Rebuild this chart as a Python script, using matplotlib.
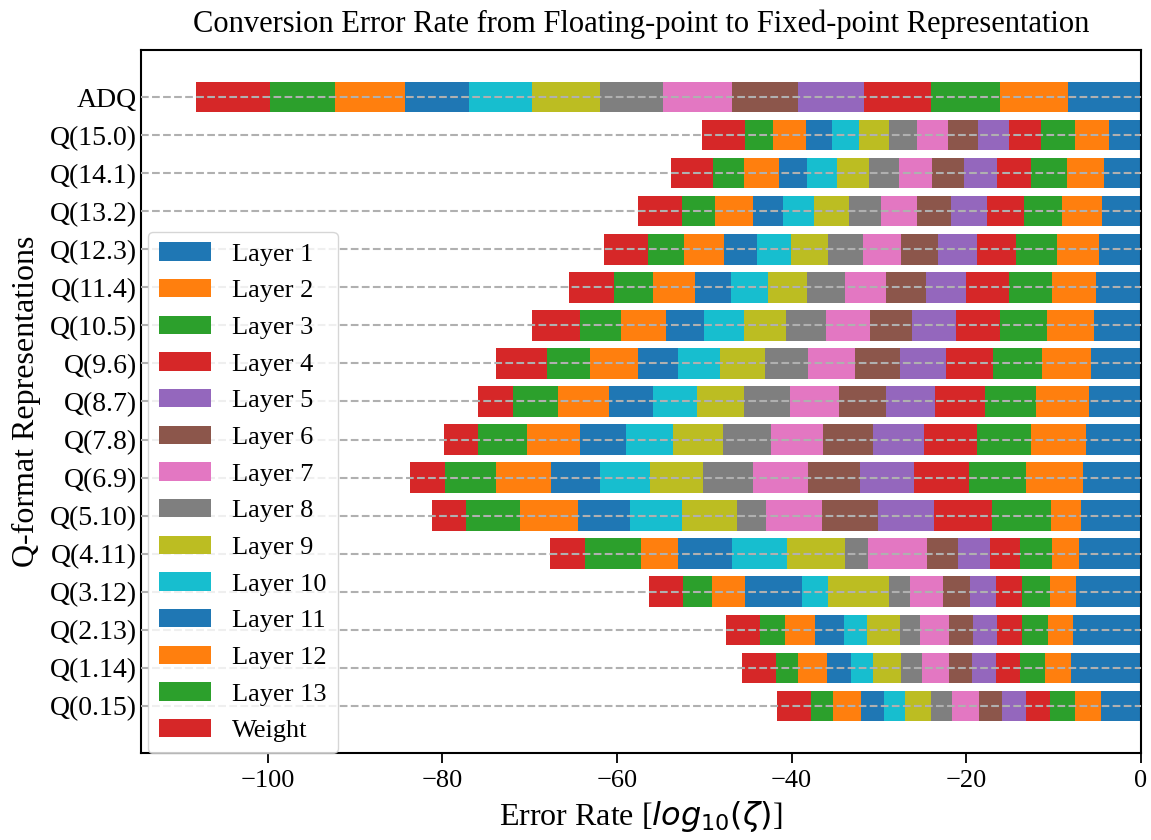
import matplotlib
matplotlib.use("Agg")
import matplotlib.pyplot as plt
import numpy as np

plt.rcParams['font.family'] = ['Liberation Serif', 'DejaVu Serif']

# rows, top to bottom
q_formats = ["ADQ", "Q(15.0)", "Q(14.1)", "Q(13.2)", "Q(12.3)", "Q(11.4)", "Q(10.5)",
             "Q(9.6)", "Q(8.7)", "Q(7.8)", "Q(6.9)", "Q(5.10)", "Q(4.11)", "Q(3.12)",
             "Q(2.13)", "Q(1.14)", "Q(0.15)"]

# log10 error rate contributed by each part (negative)
layer_1 = [-8.40, -3.67, -4.20, -4.50, -4.78, -5.12, -5.38, -5.69, -5.99, -6.33, -6.61, -6.87, -7.14, -7.48, -7.79, -8.05, -4.58]
layer_2 = [-7.75, -3.89, -4.24, -4.51, -4.84, -5.07, -5.39, -5.68, -6.00, -6.27, -6.56, -3.40, -3.02, -2.91, -2.86, -2.91, -2.95]
layer_3 = [-7.90, -3.89, -4.13, -4.43, -4.66, -4.96, -5.35, -5.58, -5.88, -6.19, -6.50, -6.80, -3.70, -3.21, -3.02, -2.90, -2.89]
layer_4 = [-7.65, -3.67, -3.92, -4.20, -4.51, -4.86, -5.11, -5.42, -5.73, -6.03, -6.30, -6.64, -3.44, -3.01, -2.79, -2.75, -2.75]
layer_5 = [-7.62, -3.52, -3.82, -4.09, -4.43, -4.65, -5.00, -5.27, -5.58, -5.88, -6.18, -6.42, -3.70, -3.01, -2.78, -2.71, -2.72]
layer_6 = [-7.56, -3.43, -3.63, -3.93, -4.24, -4.55, -4.81, -5.16, -5.41, -5.73, -6.03, -6.38, -3.48, -3.03, -2.79, -2.67, -2.70]
layer_7 = [-7.84, -3.59, -3.81, -4.12, -4.38, -4.70, -5.01, -5.31, -5.58, -5.92, -6.19, -6.47, -6.79, -3.81, -3.28, -3.13, -3.06]
layer_8 = [-7.25, -3.17, -3.44, -3.70, -4.01, -4.35, -4.61, -4.92, -5.23, -5.50, -5.80, -3.26, -2.64, -2.41, -2.30, -2.34, -2.37]
layer_9 = [-7.76, -3.47, -3.67, -3.98, -4.24, -4.50, -4.85, -5.16, -5.46, -5.76, -6.07, -6.34, -6.64, -6.96, -3.78, -3.27, -3.01]
layer_10 = [-7.25, -3.10, -3.40, -3.55, -3.93, -4.20, -4.47, -4.77, -5.07, -5.38, -5.70, -5.95, -6.30, -3.04, -2.67, -2.45, -2.44]
layer_11 = [-7.33, -3.01, -3.21, -3.43, -3.78, -4.07, -4.40, -4.66, -4.97, -5.27, -5.56, -5.88, -6.15, -6.46, -3.28, -2.82, -2.60]
layer_12 = [-8.02, -3.71, -4.01, -4.36, -4.55, -4.87, -5.19, -5.49, -5.80, -6.07, -6.38, -6.72, -4.24, -3.78, -3.40, -3.26, -3.21]
layer_13 = [-7.44, -3.24, -3.47, -3.74, -4.12, -4.39, -4.66, -4.93, -5.24, -5.54, -5.85, -6.16, -6.41, -3.35, -2.90, -2.55, -2.52]
weight = [-8.48, -4.96, -4.92, -5.00, -5.04, -5.23, -5.45, -5.84, -4.01, -3.94, -3.93, -3.92, -3.97, -3.93, -3.86, -3.93, -3.93]

series = [layer_1, layer_2, layer_3, layer_4, layer_5, layer_6, layer_7,
          layer_8, layer_9, layer_10, layer_11, layer_12, layer_13, weight]
names = ["Layer %d" % (i + 1) for i in range(13)] + ["Weight"]

colors = plt.rcParams['axes.prop_cycle'].by_key()['color']

fig = plt.figure(figsize=(11.51, 8.4), dpi=100)
ax = fig.add_axes([0.1225, 0.1036, 0.8688, 0.8369])

y = np.arange(len(q_formats))
left = np.zeros(len(q_formats))
for i, (vals, name) in enumerate(zip(series, names)):
    vals = np.array(vals)
    ax.barh(y, vals, 0.8, left=left, label=name, color=colors[i % 10])
    left = left + vals

ax.set_yticks(y)
ax.set_yticklabels(q_formats, fontsize=20)
ax.invert_yaxis()
ax.set_xlim(-114.5, 0)
ax.tick_params(axis='x', labelsize=19, length=7, width=1.3, pad=5)
ax.tick_params(axis='y', length=0, pad=3)
ax.yaxis.grid(True, linestyle='--', color='#b0b0b0', linewidth=1.5)
ax.set_axisbelow(False)
for s in ax.spines.values():
    s.set_linewidth(1.5)

ax.set_title("Conversion Error Rate from Floating-point to Fixed-point Representation",
             fontsize=22, pad=13)
ax.set_xlabel(r"Error Rate [$log_{10}(\zeta)$]", fontsize=23, labelpad=5)
ax.set_ylabel("Q-format Representations", fontsize=23, labelpad=6)
ax.legend(loc='lower left', fontsize=19, labelspacing=0.5,
          bbox_to_anchor=(0.007, 0.0), borderaxespad=0)

fig.savefig("out.png", dpi=100)
